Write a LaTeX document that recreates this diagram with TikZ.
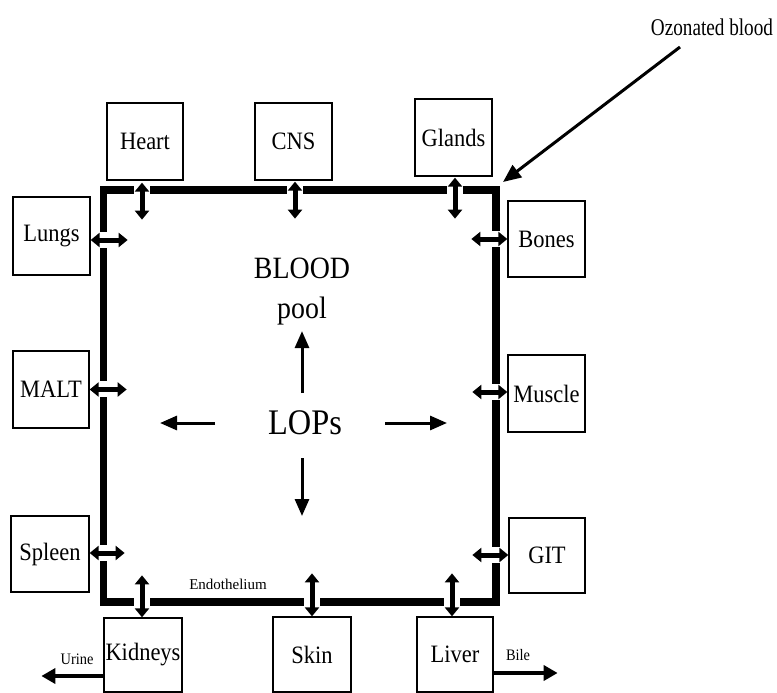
\documentclass[tikz,border=0pt]{standalone}
\usepackage{fontspec}
\setmainfont{Liberation Serif}
\newfontfamily\condfont[FakeStretch=0.9]{Liberation Serif}
\newfontfamily\narrowfont[FakeStretch=0.8]{Liberation Serif}
\usetikzlibrary{arrows.meta}
\begin{document}
\begin{tikzpicture}[x=1pt,y=-1pt,
  organ/.style={draw,line width=1.3pt,minimum width=#1,inner sep=0pt,font=\condfont\fontsize{25}{29}\selectfont},
  dbl/.style={line width=5pt,{Triangle[length=9pt,width=14pt]}-{Triangle[length=9pt,width=14pt]}},
  flow/.style={line width=3pt,-{Triangle[length=17pt,width=14pt]}},
  excr/.style={line width=4pt,-{Triangle[length=14pt,width=15pt]}},
  gap/.style={fill=white}]
\useasboundingbox[fill=white] (0,0) rectangle (777,693);
% organs
\node[organ=76pt,minimum height=77pt] (heart) at (145,141.5) {Heart};
\node[organ=77pt,minimum height=77pt] (cns) at (293.5,141.5) {CNS};
\node[organ=77pt,minimum height=77pt] (glands) at (453.5,137.5) {Glands};
\node[organ=77pt,minimum height=78pt] (lungs) at (51.5,236) {Lungs};
\node[organ=76pt,minimum height=77pt] (malt) at (51,389.5) {MALT};
\node[organ=78pt,minimum height=76pt] (spleen) at (50,554) {Spleen};
\node[organ=77pt,minimum height=76pt] (bones) at (546.5,239) {Bones};
\node[organ=77pt,minimum height=77pt] (muscle) at (546.5,393.5) {Muscle};
\node[organ=76pt,minimum height=75pt] (git) at (547,555.5) {GIT};
\node[organ=78pt,minimum height=74pt] (kidneys) at (143,655) {Kidneys};
\node[organ=78pt,minimum height=75pt] (skin) at (312,654.5) {Skin};
\node[organ=76pt,minimum height=75pt] (liver) at (455,654.5) {Liver};
% endothelium frame
\draw[line width=7.5pt] (103.5,190) rectangle (496,602);
\fill[gap] (134,185) rectangle (150,195);
\fill[gap] (287,185) rectangle (303,195);
\fill[gap] (447,185) rectangle (463,195);
\fill[gap] (98,232) rectangle (109,248);
\fill[gap] (98,381) rectangle (109,397);
\fill[gap] (98,545) rectangle (109,561);
\fill[gap] (491,231) rectangle (501,247);
\fill[gap] (491,384) rectangle (501,400);
\fill[gap] (491,547) rectangle (501,563);
\fill[gap] (134,597) rectangle (150,607);
\fill[gap] (304,597) rectangle (320,607);
\fill[gap] (444,597) rectangle (460,607);
% exchange arrows
\draw[dbl] ([xshift=-3pt,yshift=-2pt]heart.south) -- ++(0,37);
\draw[dbl] ([xshift=1.5pt,yshift=-1pt]cns.south) -- ++(0,37);
\draw[dbl] ([xshift=1.5pt,yshift=-1pt]glands.south) -- ++(0,41);
\draw[dbl] ([yshift=-4pt]lungs.east) -- ++(37,0);
\draw[dbl] (malt.east) -- ++(37,0);
\draw[dbl] ([yshift=1pt]spleen.east) -- ++(35,0);
\draw[dbl] (bones.west) -- ++(-36,0);
\draw[dbl] ([yshift=1.5pt]muscle.west) -- ++(-35,0);
\draw[dbl] ([yshift=0.5pt]git.west) -- ++(-36,0);
\draw[dbl] ([xshift=-1pt]kidneys.north) -- ++(0,-42);
\draw[dbl] (skin.north) -- ++(0,-43);
\draw[dbl] ([xshift=-3pt]liver.north) -- ++(0,-43);
% centre
\node[align=center,font=\condfont\fontsize{31}{40}\selectfont] (blood) at (302,292) {BLOOD\\pool};
\node[font=\condfont\fontsize{36}{40}\selectfont] (lops) at (305,423) {LOPs};
\draw[flow] ([xshift=-3pt,yshift=30pt]lops.center) -- ([yshift=-2pt]blood.south);
\draw[flow] ([xshift=80pt]lops.center) -- ++(62,0);
\draw[flow] ([xshift=-3pt,yshift=-35pt]lops.center) -- ++(0,58);
\draw[flow] ([xshift=-90pt]lops.center) -- ++(-55,0);
% labels
\node[font=\fontsize{15}{17}\selectfont] (endo) at (228,584) {Endothelium};
\node[font=\narrowfont\fontsize{24}{28}\selectfont] (ozo) at (712,27) {Ozonated blood};
\coordinate (ozotip) at (503,182);
\draw[line width=3pt,-{Triangle[length=18pt,width=15pt]}] ([xshift=-32pt,yshift=-20pt]ozo.center) -- (ozotip);
\node[font=\condfont\fontsize{16}{18}\selectfont] (urine) at (77,659) {Urine};
\node[font=\condfont\fontsize{16}{18}\selectfont] (bile) at (518,655) {Bile};
\draw[excr] ([yshift=-21pt]kidneys.west) -- ++(-62,0);
\draw[excr] ([yshift=-18.5pt]liver.east) -- ++(64,0);
\end{tikzpicture}
\end{document}
